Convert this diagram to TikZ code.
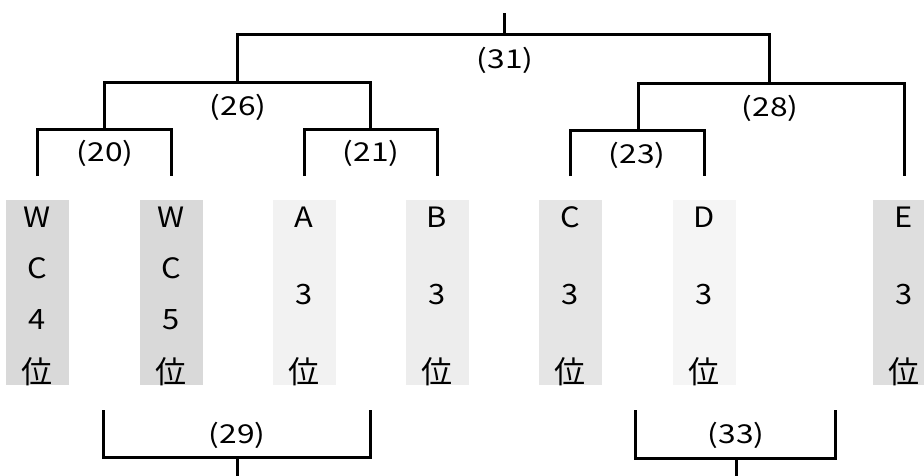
\documentclass[tikz,border=0pt]{standalone}
\usepackage{fontspec}
\setmainfont{Noto Sans CJK JP}
\newfontfamily\widech[FakeStretch=1.1]{Noto Sans CJK JP}
\newfontfamily\widelab[FakeStretch=1.22]{Noto Sans CJK JP}
\begin{document}
\begin{tikzpicture}[x=1pt,y=-1pt,
  tree/.style={line width=3pt,black,line cap=butt,line join=miter},
  col/.style={rectangle,minimum width=63pt,minimum height=185pt,inner sep=0pt,draw=none},
  ch/.style={inner sep=0pt,font=\widech\fontsize{28}{32}\selectfont},
  kj/.style={inner sep=0pt,font=\fontsize{31}{34}\selectfont},
  lab/.style={inner sep=0pt,font=\widelab\fontsize{26}{30}\selectfont}]
\useasboundingbox (0,0) rectangle (924,475);
\fill[white] (0,0) rectangle (924,475);
% columns
\node[col,fill=black!15] (c1) at (37,292.5) {};
\node[col,fill=black!15] (c2) at (171,292.5) {};
\node[col,fill=black!5] (c3) at (304,292.5) {};
\node[col,fill=black!7] (c4) at (437,292.5) {};
\node[col,fill=black!10] (c5) at (570,292.5) {};
\node[col,fill=black!4] (c6) at (704,292.5) {};
\node[col,fill=black!13] (c7) at (904,292.5) {};
% texts
\node[ch] (t1a) at (37,217) {W};
\node[ch] (t1b) at (37,268) {C};
\node[ch] (t1c) at (37,320) {4};
\node[kj] (t1d) at (37,372) {位};
\node[ch] (t2a) at (171,217) {W};
\node[ch] (t2b) at (171,268) {C};
\node[ch] (t2c) at (171,320) {5};
\node[kj] (t2d) at (171,372) {位};
\node[ch] (t3a) at (304,217) {A};
\node[ch] (t3b) at (304,295) {3};
\node[kj] (t3c) at (304,372) {位};
\node[ch] (t4a) at (437,217) {B};
\node[ch] (t4b) at (437,295) {3};
\node[kj] (t4c) at (437,372) {位};
\node[ch] (t5a) at (570,217) {C};
\node[ch] (t5b) at (570,295) {3};
\node[kj] (t5c) at (570,372) {位};
\node[ch] (t6a) at (704,217) {D};
\node[ch] (t6b) at (704,295) {3};
\node[kj] (t6c) at (704,372) {位};
\node[ch] (t7a) at (904,217) {E};
\node[ch] (t7b) at (904,295) {3};
\node[kj] (t7c) at (904,372) {位};
% tree coordinates
\coordinate (top) at (504,13);
\coordinate (r31) at (504,34);
\coordinate (l1) at (37,176);
\coordinate (l2) at (171,176);
\coordinate (l3) at (304,176);
\coordinate (l4) at (437,176);
\coordinate (l5) at (570,176);
\coordinate (l6) at (704,176);
\coordinate (l7) at (904,176);
% (20)
\draw[tree] (l1) |- (104,129) -| (l2);
% (21)
\draw[tree] (l3) |- (370,129) -| (l4);
% (26)
\draw[tree] (104,129) |- (237,82) -| (370,129);
% (23)
\draw[tree] (l5) |- (638,130) -| (l6);
% (28)
\draw[tree] (638,130) |- (769,83) -| (l7);
% (31)
\draw[tree] (237,82) |- (r31) -| (769,83);
\draw[tree] (top) -- (r31);
% labels
\node[lab] (n31) at (505,60) {(31)};
\node[lab] (n26) at (238,107) {(26)};
\node[lab] (n28) at (770,108) {(28)};
\node[lab] (n20) at (105,153) {(20)};
\node[lab] (n21) at (371,153) {(21)};
\node[lab] (n23) at (637,155) {(23)};
% bottom brackets
\coordinate (b1l) at (103,410);
\coordinate (b1r) at (370,410);
\coordinate (b1m) at (237,457);
\coordinate (b1e) at (237,480);
\draw[tree] (b1l) |- (b1m) -| (b1r);
\draw[tree] (b1m) -- (b1e);
\node[lab] (n29) at (237,435) {(29)};
\coordinate (b2l) at (635,410);
\coordinate (b2r) at (835,410);
\coordinate (b2m) at (736,458);
\coordinate (b2e) at (736,480);
\draw[tree] (b2l) |- (b2m) -| (b2r);
\draw[tree] (b2m) -- (b2e);
\node[lab] (n33) at (736,435) {(33)};
\end{tikzpicture}
\end{document}
